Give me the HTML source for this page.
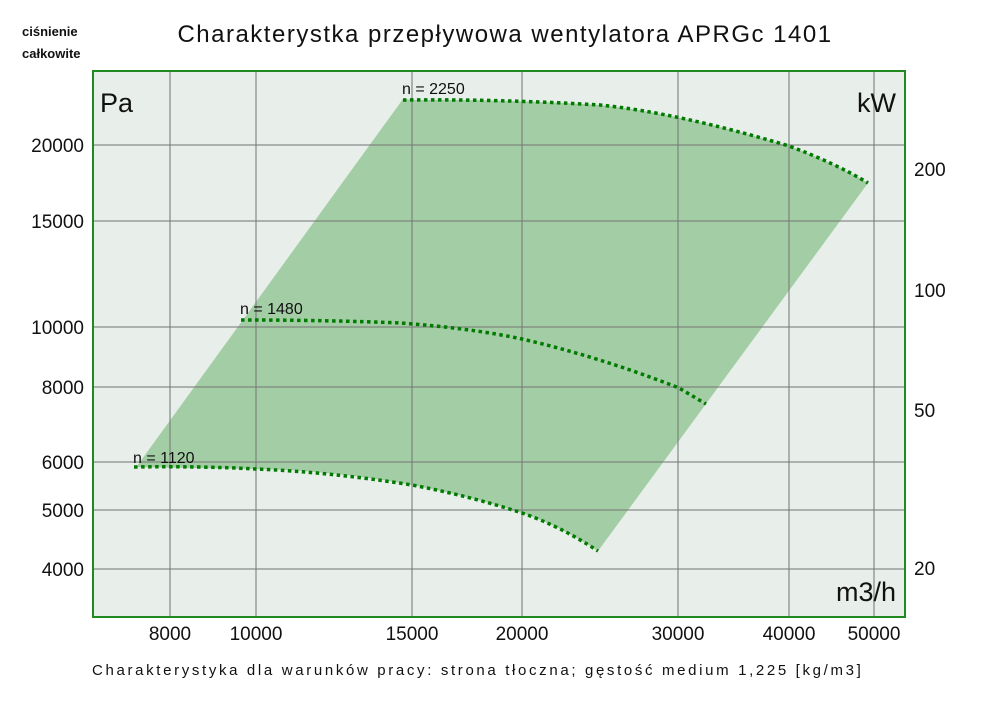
<!DOCTYPE html>
<html><head><meta charset="utf-8"><style>
body{margin:0;background:#fff;width:1000px;height:706px;overflow:hidden}
svg{display:block}
text{font-family:"Liberation Sans","DejaVu Sans",sans-serif;fill:#111}
</style></head><body>
<svg width="1000" height="706" viewBox="0 0 1000 706">
<rect x="93" y="71" width="812" height="546" fill="#e8eeea"/>
<path d="M137,466 L403,99 L415,100 Q500,99 600,105 Q679,113 789,146 Q835,163 868,183 L598,551 Q560,526 522,513 Q470,496 412,485 Q330,470 256,469 L134,467 Z" fill="#a3cda4"/>
<g stroke="#777" stroke-opacity="0.7" stroke-width="1.5">
<line x1="170" y1="71" x2="170" y2="617"/><line x1="256" y1="71" x2="256" y2="617"/>
<line x1="412" y1="71" x2="412" y2="617"/><line x1="522" y1="71" x2="522" y2="617"/>
<line x1="678" y1="71" x2="678" y2="617"/><line x1="789" y1="71" x2="789" y2="617"/>
<line x1="874" y1="71" x2="874" y2="617"/>
<line x1="93" y1="145" x2="905" y2="145"/><line x1="93" y1="221" x2="905" y2="221"/>
<line x1="93" y1="327" x2="905" y2="327"/><line x1="93" y1="387" x2="905" y2="387"/>
<line x1="93" y1="462" x2="905" y2="462"/><line x1="93" y1="510" x2="905" y2="510"/>
<line x1="93" y1="569" x2="905" y2="569"/>
</g>
<rect x="93" y="71" width="812" height="546" fill="none" stroke="#1f8a1f" stroke-width="2"/>
<g fill="none" stroke="#007a00" stroke-width="3.5" stroke-dasharray="3.5 3.5">
<path d="M403,100 Q500,99 600,105 Q679,113 789,146 Q835,163 868,183"/>
<path d="M241,320 Q330,320 400,323 Q470,328 522,339 Q600,357 679,388 L706,404"/>
<path d="M134,467 Q200,466 256,469 Q330,472 412,485 Q470,496 522,513 Q560,526 598,551"/>
</g>
<text x="402" y="94" font-size="16">n = 2250</text>
<text x="240" y="314" font-size="16">n = 1480</text>
<text x="133" y="463" font-size="16">n = 1120</text>
<text x="100" y="112" font-size="27">Pa</text>
<text x="896" y="112" font-size="27" text-anchor="end">kW</text>
<text x="896" y="601" font-size="27" text-anchor="end">m3/h</text>
<text x="505" y="42" font-size="24" text-anchor="middle" letter-spacing="1.5">Charakterystka przepływowa wentylatora APRGc 1401</text>
<text x="22" y="36" font-size="13" font-weight="bold">ciśnienie</text>
<text x="22" y="58" font-size="13" font-weight="bold">całkowite</text>
<g font-size="19" text-anchor="end">
<text x="84" y="152">20000</text><text x="84" y="228">15000</text><text x="84" y="334">10000</text>
<text x="84" y="394">8000</text><text x="84" y="469">6000</text><text x="84" y="517">5000</text><text x="84" y="576">4000</text>
</g>
<g font-size="19">
<text x="914" y="176">200</text><text x="914" y="297">100</text><text x="914" y="417">50</text><text x="914" y="575">20</text>
</g>
<g font-size="19" text-anchor="middle">
<text x="170" y="640">8000</text><text x="256" y="640">10000</text><text x="412" y="640">15000</text>
<text x="522" y="640">20000</text><text x="678" y="640">30000</text><text x="789" y="640">40000</text><text x="874" y="640">50000</text>
</g>
<text x="92" y="675" font-size="15" letter-spacing="2.65">Charakterystyka dla warunków pracy: strona tłoczna; gęstość medium 1,225 [kg/m3]</text>
</svg>
</body></html>
